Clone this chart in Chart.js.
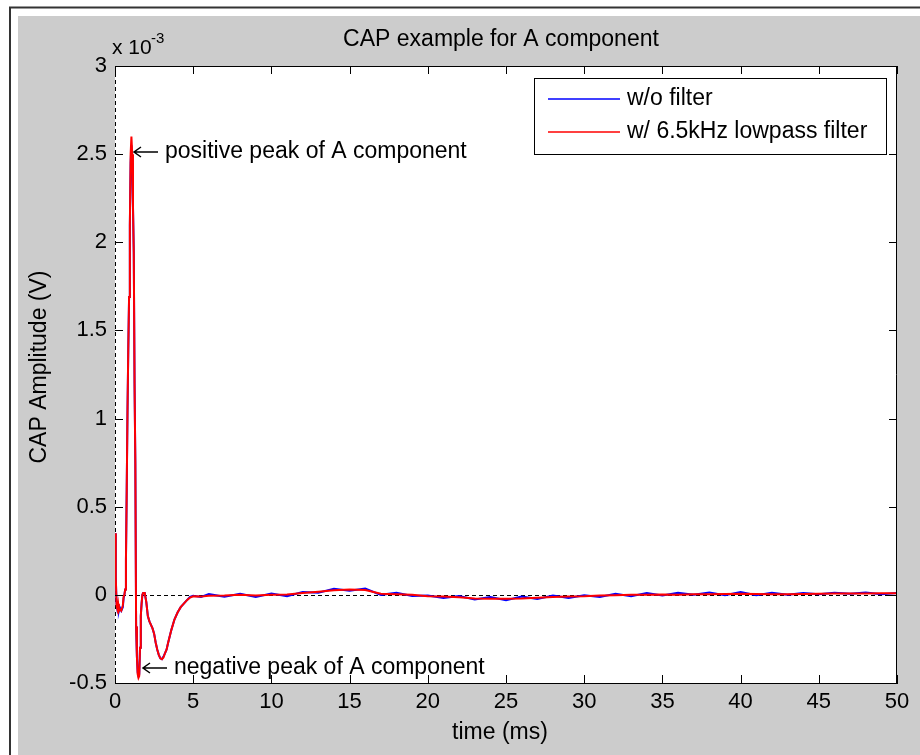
<!DOCTYPE html>
<html lang="en">
<head>
<meta charset="UTF-8" />
<title>CAP example for A component</title>
<script src="https://cdn.jsdelivr.net/npm/chart.js"></script>
<style>
  body { margin: 0; background: #ffffff; }
  #wrap { width: 920px; height: 755px; }
</style>
</head>
<body>
<div id="wrap"><canvas id="capChart" width="920" height="755"></canvas></div>
<script>
  // time axis (ms), shared by both traces
  const timeMs = [0, 0.05, 0.1, 0.15, 0.2, 0.25, 0.3, 0.4, 0.5, 0.55, 0.6, 0.65, 0.7, 0.75, 0.8, 0.85, 0.9, 0.95,
    1.0, 1.05, 1.1, 1.15, 1.2, 1.25, 1.3, 1.35, 1.4, 1.45, 1.5, 1.55, 1.6, 1.65, 1.7, 1.75, 1.8, 1.9,
    2.0, 2.1, 2.2, 2.3, 2.4, 2.5, 2.6, 2.7, 2.8, 2.9, 3.0, 3.1, 3.2, 3.3, 3.4, 3.6, 3.8, 4.0, 4.2, 4.4, 4.6, 4.8,
    5.0, 5.5, 6, 7, 8, 9, 10, 11, 12, 13, 14, 15, 16, 17, 18, 19, 20, 21, 22, 23, 24, 25, 26, 27, 28, 29, 30,
    31, 32, 33, 34, 35, 36, 37, 38, 39, 40, 41, 42, 43, 44, 45, 46, 47, 48, 49, 50];

  // amplitudes in units of 1e-3 V
  const rawMv = [0.35, 0.10, -0.05, -0.08, -0.06, -0.09, -0.07, -0.09, -0.07, -0.02, 0.0, 0.03, 0.2, 0.6, 1.05, 1.4, 1.69, 2.1,
    2.45, 2.55, 2.45, 2.2, 1.94, 1.2, 0.75, -0.18, -0.35, -0.44, -0.46, -0.45, -0.3, -0.12, -0.05, 0.0, 0.01, 0.01,
    -0.04, -0.12, -0.15, -0.17, -0.19, -0.22, -0.27, -0.31, -0.34, -0.36, -0.365, -0.35, -0.33, -0.31, -0.27, -0.2, -0.14, -0.1, -0.07, -0.05, -0.03, -0.012,
    -0.005, -0.012, 0.004, -0.01, 0.006, -0.012, 0.008, -0.008, 0.016, 0.012, 0.034, 0.024, 0.036, 0.0, 0.012, -0.006, -0.004, -0.018, -0.006, -0.026, -0.012, -0.03, -0.01, -0.024, -0.004, -0.018, -0.002,
    -0.012, 0.006, -0.008, 0.01, -0.004, 0.012, 0.0, 0.014, -0.002, 0.016, -0.002, 0.012, 0.0, 0.01, 0.004, 0.012, 0.006, 0.014, 0.004, 0.01];

  const filteredMv = [0.35, 0.10, -0.06, -0.08, -0.05, -0.09, -0.08, -0.09, -0.06, -0.01, 0.0, 0.03, 0.2, 0.6, 1.05, 1.4, 1.69, 2.1,
    2.5, 2.6, 2.5, 2.2, 1.94, 1.2, 0.75, -0.18, -0.35, -0.45, -0.47, -0.46, -0.3, -0.12, -0.05, 0.0, 0.01, 0.01,
    -0.04, -0.12, -0.15, -0.17, -0.19, -0.22, -0.27, -0.31, -0.34, -0.36, -0.365, -0.355, -0.33, -0.31, -0.27, -0.2, -0.14, -0.1, -0.07, -0.05, -0.03, -0.015,
    -0.008, -0.01, -0.005, -0.004, 0.0, -0.003, 0.0, 0.002, 0.01, 0.018, 0.026, 0.03, 0.028, 0.006, 0.003, 0.0, -0.008, -0.01, -0.014, -0.02, -0.022, -0.022, -0.02, -0.016, -0.012, -0.01, -0.008,
    -0.004, -0.002, 0.0, 0.0, 0.002, 0.001, 0.003, 0.004, 0.005, 0.006, 0.005, 0.004, 0.004, 0.005, 0.006, 0.007, 0.008, 0.008, 0.009, 0.009];

  const seriesLabels = ['w/o filter', 'w/ 6.5kHz lowpass filter'];
  const seriesColors = ['#0000ff', '#ff0000'];
  const xTicks = [0, 5, 10, 15, 20, 25, 30, 35, 40, 45, 50];
  const yTicks = [-0.5, 0, 0.5, 1, 1.5, 2, 2.5, 3];

  const FONT = '"Liberation Sans", Arial, sans-serif';

  // matlab style left arrow + label
  function arrowNote(ctx, x, y, text) {
    ctx.save();
    ctx.strokeStyle = '#000000';
    ctx.lineWidth = 1.5;
    ctx.beginPath();
    ctx.moveTo(x + 25, y);
    ctx.lineTo(x + 1, y);
    ctx.moveTo(x + 8, y - 5);
    ctx.lineTo(x + 1, y);
    ctx.lineTo(x + 8, y + 5);
    ctx.stroke();
    ctx.fillText(text, x + 32, y);
    ctx.restore();
  }

  // figure background, frame, texts and legend drawn like the matlab figure
  const matlabFigure = {
    id: 'matlabFigure',
    beforeDraw(chart) {
      const ctx = chart.ctx;
      const a = chart.chartArea;
      ctx.save();
      ctx.fillStyle = '#ffffff';
      ctx.fillRect(0, 0, chart.width, chart.height);
      ctx.strokeStyle = '#333333';
      ctx.lineWidth = 2;
      ctx.beginPath();
      ctx.moveTo(10, 755);
      ctx.lineTo(10, 7.5);
      ctx.lineTo(920, 7.5);
      ctx.stroke();
      ctx.fillStyle = '#cccccc';
      ctx.fillRect(18, 16, chart.width - 18, chart.height - 16);
      ctx.fillStyle = '#ffffff';
      ctx.fillRect(a.left, a.top, a.right - a.left, a.bottom - a.top);
      ctx.restore();
    },
    beforeDatasetsDraw(chart) {
      const ctx = chart.ctx;
      const a = chart.chartArea;
      const x0 = Math.round(chart.scales.x.getPixelForValue(0)) + 0.5;
      const y0 = Math.round(chart.scales.y.getPixelForValue(0)) + 0.5;
      ctx.save();
      ctx.strokeStyle = '#000000';
      ctx.lineWidth = 1;
      ctx.setLineDash([4, 3]);
      ctx.beginPath();
      ctx.moveTo(a.left, y0);
      ctx.lineTo(a.right, y0);
      ctx.moveTo(x0, a.top);
      ctx.lineTo(x0, a.bottom);
      ctx.stroke();
      ctx.restore();
    },
    afterDraw(chart) {
      const ctx = chart.ctx;
      const a = chart.chartArea;
      const xs = chart.scales.x, ys = chart.scales.y;
      ctx.save();
      ctx.strokeStyle = '#000000';
      ctx.lineWidth = 1;
      // top and right box edges
      ctx.beginPath();
      ctx.moveTo(a.left, a.top + 0.5);
      ctx.lineTo(a.right - 0.5, a.top + 0.5);
      ctx.lineTo(a.right - 0.5, a.bottom);
      ctx.stroke();
      // inward ticks
      const tl = 8;
      ctx.beginPath();
      xTicks.forEach(v => {
        const px = Math.round(xs.getPixelForValue(v)) + 0.5;
        ctx.moveTo(px, a.bottom); ctx.lineTo(px, a.bottom - tl);
        ctx.moveTo(px, a.top); ctx.lineTo(px, a.top + tl);
      });
      yTicks.forEach(v => {
        const py = Math.round(ys.getPixelForValue(v)) + 0.5;
        ctx.moveTo(a.left, py); ctx.lineTo(a.left + tl, py);
        ctx.moveTo(a.right, py); ctx.lineTo(a.right - tl, py);
      });
      ctx.stroke();

      ctx.fillStyle = '#000000';
      ctx.textBaseline = 'middle';
      // title
      ctx.font = '23px ' + FONT;
      ctx.textAlign = 'center';
      ctx.fillText('CAP example for A component', 501, 40);
      // axis titles
      ctx.fillText('time (ms)', 500, 733);
      ctx.save();
      ctx.translate(40, 367);
      ctx.rotate(-Math.PI / 2);
      ctx.fillText('CAP Amplitude (V)', 0, 0);
      ctx.restore();
      // exponent
      ctx.textAlign = 'left';
      ctx.font = '21px ' + FONT;
      ctx.fillText('x 10', 112, 48);
      ctx.font = '15px ' + FONT;
      ctx.fillText('-3', 151, 39);
      // annotations
      ctx.font = '23px ' + FONT;
      arrowNote(ctx, 133, 152, 'positive peak of A component');
      arrowNote(ctx, 142, 668, 'negative peak of A component');

      // legend
      const lx = 534.5, ly = 78.5, lw = 352, lh = 76;
      ctx.fillStyle = '#ffffff';
      ctx.fillRect(lx, ly, lw, lh);
      ctx.strokeStyle = '#000000';
      ctx.strokeRect(lx, ly, lw, lh);
      const rows = [99, 132];
      chart.data.datasets.slice().sort((p, q) => p.legendIndex - q.legendIndex).forEach((ds, i) => {
        ctx.strokeStyle = ds.borderColor;
        ctx.lineWidth = 1.5;
        ctx.beginPath();
        ctx.moveTo(548, rows[i]);
        ctx.lineTo(620, rows[i]);
        ctx.stroke();
        ctx.fillStyle = '#000000';
        ctx.font = '23px ' + FONT;
        ctx.fillText(ds.label, 627, rows[i]);
      });
      ctx.restore();
    }
  };

  const pts = arr => timeMs.map((t, i) => ({ x: t, y: arr[i] }));

  new Chart(document.getElementById('capChart'), {
    type: 'line',
    data: {
      datasets: [
        { label: seriesLabels[1], data: pts(filteredMv), borderColor: seriesColors[1], borderWidth: 2, order: 0, legendIndex: 1 },
        { label: seriesLabels[0], data: pts(rawMv), borderColor: seriesColors[0], borderWidth: 2, order: 1, legendIndex: 0 }
      ]
    },
    options: {
      responsive: false,
      animation: false,
      layout: { padding: { left: 0, top: 66, right: 23, bottom: 0 } },
      elements: { point: { radius: 0 }, line: { tension: 0 } },
      plugins: { legend: { display: false }, tooltip: { enabled: false } },
      scales: {
        x: {
          type: 'linear', min: 0, max: 50,
          afterFit: s => { s.height = 72; },
          afterBuildTicks: s => { s.ticks = xTicks.map(v => ({ value: v })); },
          grid: { display: false, drawTicks: false },
          border: { display: true, color: '#000000', width: 1 },
          ticks: { color: '#000000', padding: 6, font: { family: FONT, size: 22 }, maxRotation: 0 }
        },
        y: {
          type: 'linear', min: -0.5, max: 3,
          afterFit: s => { s.width = 115; },
          afterBuildTicks: s => { s.ticks = yTicks.map(v => ({ value: v })); },
          grid: { display: false, drawTicks: false },
          border: { display: false },
          ticks: { color: '#000000', padding: 8, font: { family: FONT, size: 22 }, callback: v => String(v) }
        }
      }
    },
    plugins: [matlabFigure]
  });
</script>
</body>
</html>
